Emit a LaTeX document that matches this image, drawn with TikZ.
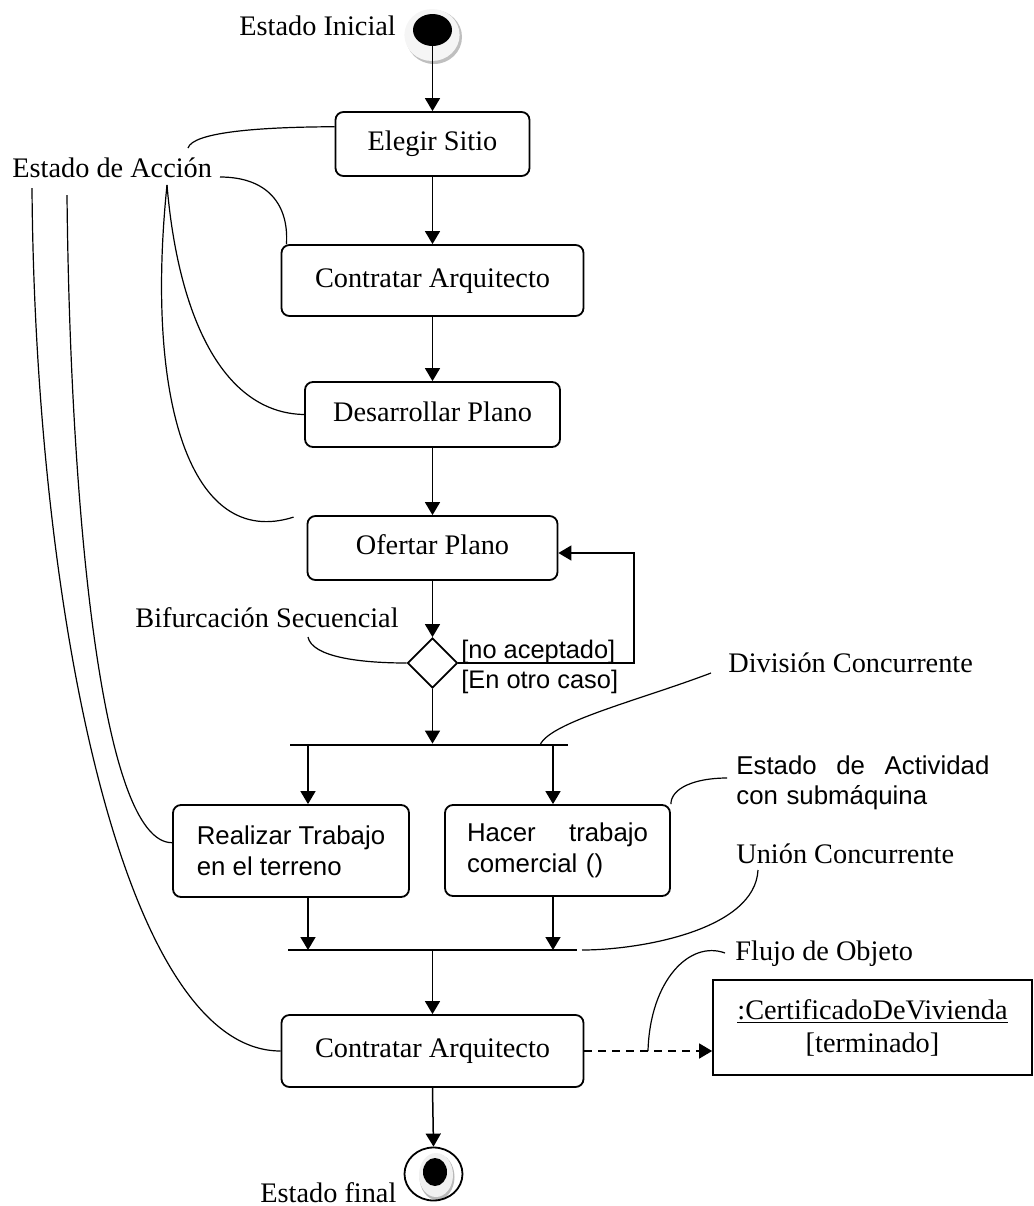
\documentclass[tikz,border=0pt]{standalone}
\usepackage{fontspec}
\setmainfont{Liberation Serif}
\setsansfont{Liberation Sans}
\usetikzlibrary{arrows.meta, shapes.geometric}
\tikzset{
    accion/.style={draw, line width=0.9pt, rounded corners=4pt, inner sep=0pt,
                   font=\fontsize{14.15}{17}\selectfont,
                   text height=10pt, text depth=3.5pt},
    accionsans/.style={draw, line width=0.9pt, rounded corners=4pt, inner sep=0pt,
                   font=\sffamily\fontsize{12.9}{15.5}\selectfont, align=left},
    flujo/.style={line width=0.75pt, -{Triangle[length=6.5pt, width=7.5pt]}},
    nota/.style={line width=0.6pt},
    etiqueta/.style={font=\fontsize{14.15}{17}\selectfont, inner sep=0pt,
                   anchor=base west},
    guarda/.style={font=\sffamily\fontsize{12.7}{15}\selectfont, inner sep=0pt,
                   anchor=base west},
    barra/.style={fill=black, inner sep=0pt, minimum height=1pt}
}

\begin{document}
\begin{tikzpicture}[x=0.5pt, y=-0.5pt]
        \useasboundingbox (0, 0) rectangle (1034, 1206);

        \fill[gray!50] (434, 37) ellipse [x radius=14pt, y radius=13.5pt];
        \fill[gray!8] (432, 35) ellipse [x radius=13.8pt, y radius=13pt];
        \node[ellipse, fill=black, inner sep=0pt, minimum width=19.5pt,
              minimum height=16pt] (inicio) at (432.5, 30) {};
        \node[etiqueta] (txtInicial) at (239, 35) {Estado Inicial};

        \node[accion, minimum width=97pt, minimum height=32pt]
            (elegir) at (432.5, 144) {Elegir Sitio};
        \node[accion, minimum width=151pt, minimum height=35.5pt]
            (contratarA) at (432.5, 280.5) {Contratar Arquitecto};
        \node[accion, minimum width=127.5pt, minimum height=32.5pt]
            (desarrollar) at (432.5, 414.5) {Desarrollar Plano};
        \node[accion, minimum width=125pt, minimum height=32pt]
            (ofertar) at (432.5, 548) {Ofertar Plano};
        \node[diamond, draw, line width=0.9pt, inner sep=0pt,
              minimum width=25pt, minimum height=25pt]
            (decision) at (432.5, 663) {};
        \node[barra, minimum width=139pt] (division) at (429, 745) {};
        \node[accionsans, minimum width=118pt, minimum height=46pt]
            (realizar) at (291, 851) {Realizar Trabajo\\en el terreno};
        \node[accionsans, minimum width=112.5pt, minimum height=45.5pt,
              text width=90.5pt]
            (hacer) at (557.5, 850.5) {Hacer\hfill trabajo\\comercial ()};
        \node[barra, minimum width=144.5pt] (union) at (432.5, 950) {};
        \node[accion, minimum width=151pt, minimum height=36pt]
            (contratarB) at (432.5, 1051) {Contratar Arquitecto};
        \node[draw, line width=0.85pt, inner sep=0pt, align=center,
              minimum width=159.5pt, minimum height=47.5pt,
              font=\fontsize{14.15}{16.5}\selectfont]
            (certificado) at (872.5, 1027.5)
            {\underline{:CertificadoDeVivienda}\\{[terminado]}};

        \fill[gray!55] (437, 1177) ellipse [x radius=8.75pt, y radius=11.5pt];
        \fill[gray!12] (436, 1175) ellipse [x radius=8.5pt, y radius=11pt];
        \fill[black] (435, 1172) ellipse [x radius=6pt, y radius=7pt];
        \node[ellipse, draw, line width=0.9pt, inner sep=0pt, minimum width=29pt,
              minimum height=26.5pt] (fin) at (433.5, 1174) {};
        \node[etiqueta] (txtFinal) at (260, 1202) {Estado final};

        \draw[flujo] (inicio) -- (elegir);
        \draw[flujo] (elegir) -- (contratarA);
        \draw[flujo] (contratarA) -- (desarrollar);
        \draw[flujo] (desarrollar) -- (ofertar);
        \draw[flujo] (ofertar) -- (decision);
        \draw[flujo] (decision.south) -- (decision.south |- division.north);
        \coordinate (vuelta) at (634, 600);
        \draw[flujo] (decision.east) -| (vuelta) |- ([yshift=-2.5pt]ofertar.east);
        \node[guarda] (noAceptado) at (461, 658) {[no aceptado]};
        \node[guarda] (otroCaso) at (461, 688) {[En otro caso]};

        \coordinate (divA) at (308, 745);
        \coordinate (divB) at (553, 745);
        \coordinate (uniA) at (308, 950);
        \coordinate (uniB) at (553, 950);
        \draw[flujo] (divA) -- (divA |- realizar.north);
        \draw[flujo] (divB) -- (divB |- hacer.north);
        \draw[flujo] (uniA |- realizar.south) -- (uniA);
        \draw[flujo] (uniB |- hacer.south) -- (uniB);
        \draw[flujo] (union.south) -- (contratarB.north);
        \draw[flujo] (contratarB.south) -- (fin.north);
        \draw[flujo, dash pattern=on 4pt off 3pt]
            (contratarB.east) -- (contratarB.east -| certificado.west);

        \node[etiqueta] (txtAccion) at (12, 177) {Estado de Acción};
        \coordinate (accA) at (188, 148);
        \coordinate (accB) at (220, 177);
        \coordinate (accC) at (167, 185);
        \coordinate (accD) at (67, 195);
        \coordinate (accE) at (32, 188);
        \draw[nota] (accA) .. controls (193, 132) and (260, 127) .. (elegir.170);
        \draw[nota] (accB) .. controls (268, 177) and (289, 205) .. (contratarA.166);
        \draw[nota] (accC) .. controls (178, 315) and (222, 413) .. (desarrollar.west);
        \draw[nota] (accC) .. controls (145, 400) and (190, 550)
            .. ([xshift=-6.5pt, yshift=-1pt]ofertar.north west);
        \draw[nota] (accD) .. controls (70, 500) and (100, 843) .. (realizar.176);
        \draw[nota] (accE) .. controls (35, 600) and (120, 1051) .. (contratarB.west);

        \node[etiqueta] (txtBifurcacion) at (135, 627) {Bifurcación Secuencial};
        \coordinate (bifA) at (308, 637);
        \draw[nota] (bifA) .. controls (312, 657) and (360, 663) .. (decision.west);

        \node[etiqueta] (txtDivision) at (728, 672) {División Concurrente};
        \coordinate (divTxt) at (711, 673);
        \coordinate (divC) at (540, 745);
        \draw[nota] (divTxt) .. controls (640, 700) and (550, 722) .. (divC);

        \node[font=\sffamily\fontsize{12.9}{15}\selectfont, inner sep=0pt,
              text width=126.5pt, align=left, anchor=north west]
            (txtActividad) at (736, 755) {Estado\hfill de\hfill Actividad\\con submáquina};
        \coordinate (actTxt) at (727, 778);
        \draw[nota] (actTxt) .. controls (695, 778) and (671, 788) .. (hacer.north east);

        \node[etiqueta] (txtUnion) at (736, 863) {Unión Concurrente};
        \coordinate (uniTxt) at (758, 870);
        \coordinate (uniC) at (582, 950);
        \draw[nota] (uniTxt) .. controls (755, 930) and (640, 950) .. (uniC);

        \node[etiqueta] (txtFlujo) at (735, 960) {Flujo de Objeto};
        \coordinate (fluTxt) at (725, 953);
        \coordinate (fluC) at (648, 1051);
        \draw[nota] (fluTxt) .. controls (690, 940) and (650, 980) .. (fluC);
\end{tikzpicture}
\end{document}
